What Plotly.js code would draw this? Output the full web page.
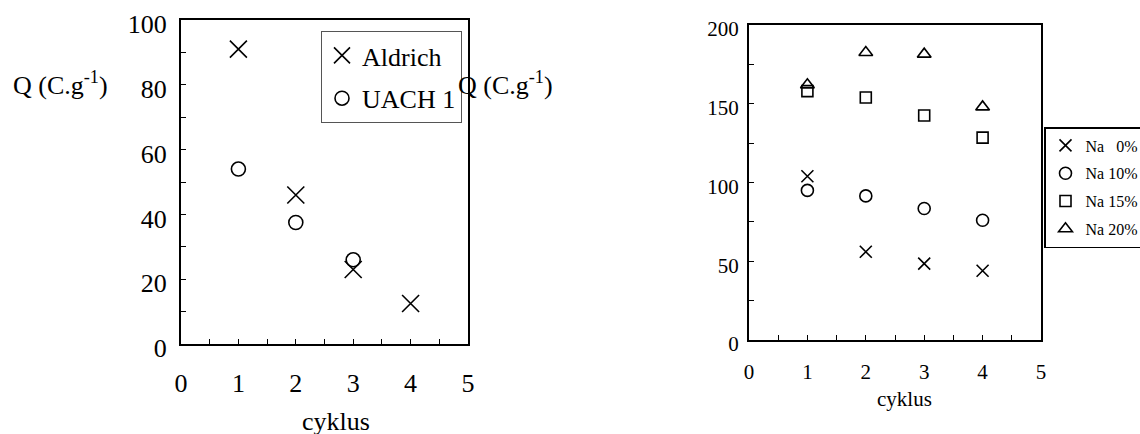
<!DOCTYPE html>
<html><head><meta charset="utf-8">
<script src="https://cdn.plot.ly/plotly-3.0.1.min.js"></script>
<style>html,body{margin:0;padding:0;background:#fff;overflow:hidden;}#chart{width:1140px;height:434px;overflow:hidden;}</style>
</head><body><div id="chart"></div>
<script>
// Left chart data
const cyclesA = [1, 2, 3, 4];
const aldrich = [91, 46, 23, 12.5];
const cyclesU = [1, 2, 3];
const uach1 = [54, 37.5, 26];
// Right chart data
const cyclesNa = [1, 2, 3, 4];
const na0 = [104, 56, 48.5, 44];
const na10 = [95, 91.5, 83.5, 76];
const na15 = [158, 154, 142.5, 128.5];
const na20 = [162, 182.5, 181.5, 148];
const legendNames = ['Na&nbsp;&nbsp;&nbsp;0%', 'Na 10%', 'Na 15%', 'Na 20%'];
const yTitle = 'Q (C.g<sup>-1</sup>)';
const xTitle = 'cyklus';

const W = 1140, H = 434;
const px = v => v / W, py = v => 1 - v / H;
const FONT = 'Liberation Serif';

function mk(x, y, name, symbol, size, xa, ya, leg, grp) {
  return {x, y, name, type: 'scatter', mode: 'markers', xaxis: xa, yaxis: ya, legend: leg,
    legendgroup: grp,
    marker: {symbol, size, color: '#000', line: {color: '#000', width: 1.6}}};
}
const traces = [
  mk(cyclesA, aldrich, 'Aldrich', 'x-thin-open', 17, 'x', 'y', 'legend', 'a'),
  mk(cyclesU, uach1, 'UACH 1', 'circle-open', 14, 'x', 'y', 'legend', 'b'),
  mk(cyclesNa, na0, legendNames[0], 'x-thin-open', 12, 'x2', 'y2', 'legend2', 'c'),
  mk(cyclesNa, na10, legendNames[1], 'circle-open', 12, 'x2', 'y2', 'legend2', 'd'),
  mk(cyclesNa, na15, legendNames[2], 'square-open', 11, 'x2', 'y2', 'legend2', 'e'),
  mk(cyclesNa, na20, legendNames[3], 'triangle-up-open', 12, 'x2', 'y2', 'legend2', 'f')
];

function axis(domain, range, dtick, minor, fs, stand, extra) {
  return Object.assign({domain, range, dtick, tick0: 0, showgrid: false, zeroline: false,
    showline: true, linecolor: '#000', linewidth: 2, mirror: true,
    ticks: 'inside', ticklen: 5, tickwidth: 1, tickcolor: '#000',
    minor: {dtick: minor, ticks: 'inside', ticklen: 5, tickwidth: 1, tickcolor: '#000', showgrid: false},
    tickfont: {family: FONT, size: fs, color: '#000'}, ticklabelstandoff: stand,
    fixedrange: true, automargin: false}, extra || {});
}

const layout = {
  width: W, height: H, margin: {l: 0, r: 0, t: 0, b: 0, autoexpand: false},
  paper_bgcolor: '#fff', plot_bgcolor: '#fff',
  font: {family: FONT, color: '#000'},
  xaxis: axis([px(181), px(468)], [0, 5], 1, 0.5, 26, 15, {anchor: 'y'}),
  yaxis: axis([py(344), py(20)], [0, 100], 20, 10, 26, 7, {anchor: 'x', ticklabelshift: 4}),
  xaxis2: axis([px(749), px(1041)], [0, 5], 1, 0.5, 21, 12, {anchor: 'y2'}),
  yaxis2: axis([py(340), py(25)], [0, 200], 50, 25, 21, 4, {anchor: 'x2', ticklabelshift: 4}),
  legend: {x: px(321), y: py(31), xanchor: 'left', yanchor: 'top', bgcolor: '#fff',
    bordercolor: '#555', borderwidth: 1, font: {family: FONT, size: 26, color: '#000'},
    itemwidth: 30, traceorder: 'grouped', tracegroupgap: 6},
  legend2: {x: px(1044), y: py(127), xanchor: 'left', yanchor: 'top', bgcolor: '#fff',
    bordercolor: '#000', borderwidth: 1.5, font: {family: FONT, size: 16, color: '#000'},
    itemwidth: 30, traceorder: 'grouped', tracegroupgap: 4},
  annotations: [
    {text: yTitle, xref: 'paper', yref: 'paper', x: px(60), y: py(83), showarrow: false,
      xanchor: 'center', yanchor: 'middle', font: {family: FONT, size: 26, color: '#000'}},
    {text: yTitle, xref: 'paper', yref: 'paper', x: px(505), y: py(83), showarrow: false,
      xanchor: 'center', yanchor: 'middle', font: {family: FONT, size: 26, color: '#000'}},
    {text: xTitle, xref: 'paper', yref: 'paper', x: px(336), y: py(421), showarrow: false,
      xanchor: 'center', yanchor: 'middle', font: {family: FONT, size: 26, color: '#000'}},
    {text: xTitle, xref: 'paper', yref: 'paper', x: px(904), y: py(399), showarrow: false,
      xanchor: 'center', yanchor: 'middle', font: {family: FONT, size: 21, color: '#000'}}
  ],
  showlegend: true
};
Plotly.newPlot('chart', traces, layout, {staticPlot: true, displayModeBar: false});
</script></body></html>
